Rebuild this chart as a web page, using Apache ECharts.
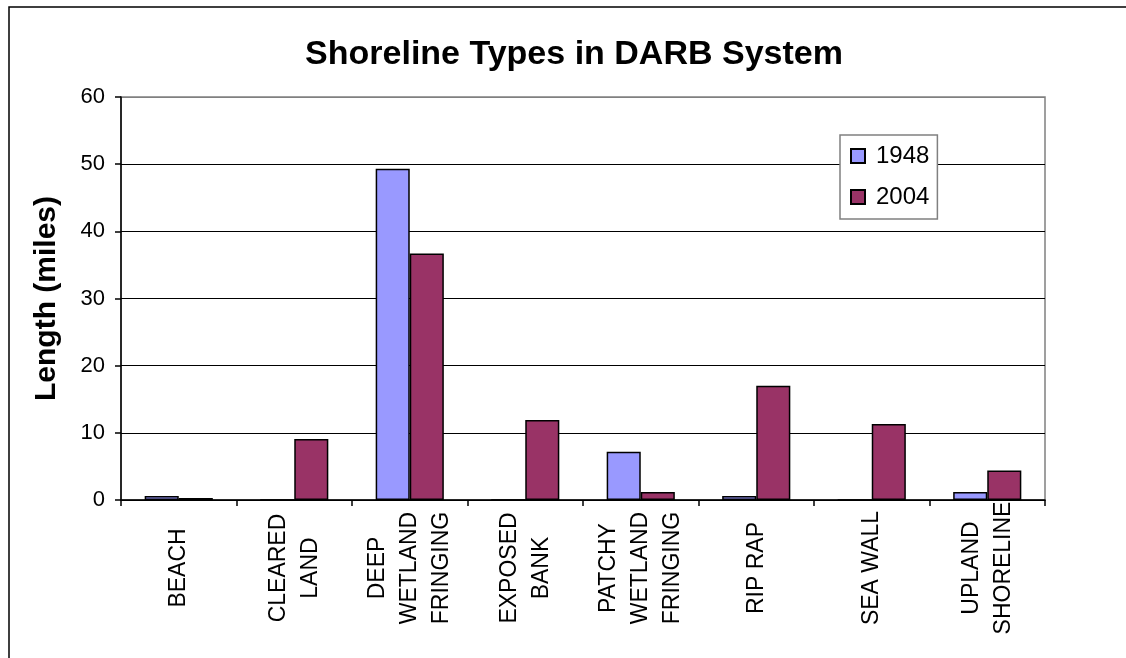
<!DOCTYPE html>
<html>
<head>
<meta charset="utf-8">
<script src="https://cdn.jsdelivr.net/npm/echarts@6/dist/echarts.min.js"></script>
<style>
html,body{margin:0;padding:0;background:#fff;}
#chart{width:1126px;height:658px;}
</style>
</head>
<body>
<div id="chart"></div>
<script>
const categories = ['BEACH', 'CLEARED\nLAND', 'DEEP\nWETLAND\nFRINGING', 'EXPOSED\nBANK', 'PATCHY\nWETLAND\nFRINGING', 'RIP RAP', 'SEA WALL', 'UPLAND\nSHORELINE'];
const values1948 = [0.6, 0, 49.3, 0, 7.2, 0.6, 0, 1.2];
const values2004 = [0.3, 9.1, 36.7, 11.9, 1.2, 17.0, 11.3, 4.4];
const seriesNames = ['1948', '2004'];
const yTicks = { min: 0, max: 60, interval: 10 };

const FONT = '"Liberation Sans", Arial, Helvetica, sans-serif';
const chart = echarts.init(document.getElementById('chart'));
chart.setOption({
  animation: false,
  backgroundColor: '#fff',
  textStyle: { fontFamily: FONT, color: '#000' },
  title: {
    text: 'Shoreline Types in DARB System',
    left: 569, top: 33, textAlign: 'center',
    textStyle: { fontFamily: FONT, fontSize: 34, fontWeight: 'bold', color: '#000' }
  },
  graphic: [{
    type: 'rect', silent: true, z: -1,
    shape: { x: 9, y: 7, width: 1140, height: 700 },
    style: { fill: 'none', stroke: '#000', lineWidth: 1.5 }
  }],
  legend: {
    data: seriesNames,
    orient: 'vertical',
    left: 840, top: 135,
    padding: [9, 8, 10, 10],
    itemGap: 17,
    itemWidth: 14, itemHeight: 14,
    icon: 'rect',
    backgroundColor: '#fff',
    borderColor: '#808080', borderWidth: 1.5,
    textStyle: { fontFamily: FONT, fontSize: 24, color: '#000', padding: [0, 0, 0, 6] }
  },
  grid: {
    left: 121, top: 97, right: 81, bottom: 158,
    show: true, borderColor: '#808080', borderWidth: 1.5, backgroundColor: 'transparent'
  },
  xAxis: {
    type: 'category',
    data: categories,
    axisLine: { lineStyle: { color: '#000', width: 1.5 } },
    axisTick: { show: true, length: 6, lineStyle: { color: '#000', width: 1.5 } },
    axisLabel: {
      rotate: 90, interval: 0, margin: 68,
      align: 'center', verticalAlign: 'middle',
      fontFamily: FONT, fontSize: 23, lineHeight: 32, color: '#000'
    }
  },
  yAxis: {
    type: 'value',
    min: yTicks.min, max: yTicks.max, interval: yTicks.interval,
    name: 'Length (miles)',
    nameLocation: 'middle', nameGap: 59,
    nameTextStyle: { fontFamily: FONT, fontSize: 30, fontWeight: 'bold', color: '#000' },
    axisLine: { show: true, lineStyle: { color: '#000', width: 1.5 } },
    axisTick: { show: true, length: 6, lineStyle: { color: '#000', width: 1.5 } },
    axisLabel: { fontFamily: FONT, fontSize: 22, color: '#000', margin: 16 },
    splitLine: { show: true, lineStyle: { color: ['#000', '#000', '#000', '#000', '#000', '#000', '#808080'], width: 1 } }
  },
  series: [
    {
      name: seriesNames[0], type: 'bar', data: values1948,
      barGap: '0%', barCategoryGap: '41%',
      itemStyle: { color: '#9999FF', borderColor: '#000', borderWidth: 1.5 }
    },
    {
      name: seriesNames[1], type: 'bar', data: values2004,
      barGap: '0%', barCategoryGap: '41%',
      itemStyle: { color: '#993366', borderColor: '#000', borderWidth: 1.5 }
    }
  ]
});
</script>
</body>
</html>
